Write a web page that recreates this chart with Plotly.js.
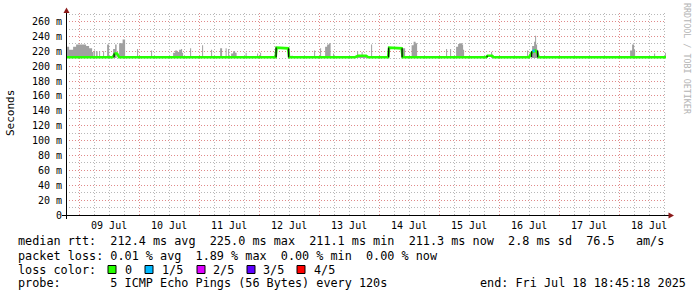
<!DOCTYPE html>
<html><head><meta charset="utf-8">
<script src="https://cdn.plot.ly/plotly-3.0.1.min.js"></script>
<style>html,body{margin:0;padding:0;background:#fff;}#chart{width:697px;height:297px;}</style>
</head><body><div id="chart"></div>
<script>
// ---------- data ----------
const startTime = '2025-07-08 18:45:18';
const endTime = '2025-07-18 18:45:18';

// median rtt (ms), breakpoints
const medianTimes = ['2025-07-08 18:45','2025-07-09 13:24','2025-07-09 14:24','2025-07-09 15:12','2025-07-09 16:00',
  '2025-07-12 06:36','2025-07-12 07:00','2025-07-12 11:36','2025-07-12 12:00',
  '2025-07-13 14:24','2025-07-13 15:36','2025-07-13 18:48','2025-07-13 19:36',
  '2025-07-14 03:36','2025-07-14 04:00','2025-07-14 09:00','2025-07-14 09:24',
  '2025-07-15 18:48','2025-07-15 19:24','2025-07-15 21:12','2025-07-15 21:48',
  '2025-07-16 12:00','2025-07-16 13:12','2025-07-16 14:24','2025-07-16 15:12','2025-07-16 15:48',
  '2025-07-18 18:45'];
const medianValues = [212,212,217,217,212, 212,225,224,212, 212,214,214,212, 212,225,224,212,
  212,214,214,212, 212,219,221,219,212, 212];

// median segment with 1/5 packet loss
const lossTimes = ['2025-07-16 13:24','2025-07-16 14:12'];
const lossValues = [220,221];

// dark smoke at transitions (ms low / high)
const transTimes = ['2025-07-09 14:00','2025-07-12 06:48','2025-07-12 11:48','2025-07-14 03:48','2025-07-14 09:12','2025-07-15 19:12','2025-07-16 13:00','2025-07-16 15:24'];
const transLow = [212,212,212,212,212,212,212,212];
const transHigh = [217,225,224,225,224,214,220,221];

// smoke (highest ping, ms), step breakpoints
const smokeBase = 211;
const smokeTimes = ['2025-07-08 18:45','2025-07-08 20:00','2025-07-08 21:36','2025-07-08 22:48','2025-07-09 02:48','2025-07-09 04:00','2025-07-09 05:12','2025-07-09 05:48',
 '2025-07-09 06:00','2025-07-09 06:24','2025-07-09 06:48','2025-07-09 07:24','2025-07-09 08:00','2025-07-09 08:24','2025-07-09 09:36','2025-07-09 10:00',
 '2025-07-09 11:12','2025-07-09 12:00','2025-07-09 13:36','2025-07-09 14:24','2025-07-09 15:00','2025-07-09 16:00','2025-07-09 17:24','2025-07-09 18:24',
 '2025-07-09 23:12','2025-07-09 23:36','2025-07-10 04:48','2025-07-10 05:12','2025-07-10 13:36','2025-07-10 14:24','2025-07-10 15:12','2025-07-10 16:00',
 '2025-07-10 16:48','2025-07-10 17:12','2025-07-10 17:36','2025-07-10 20:24','2025-07-10 20:48','2025-07-11 01:12','2025-07-11 01:36','2025-07-11 04:48',
 '2025-07-11 05:12','2025-07-11 08:24','2025-07-11 09:12','2025-07-11 10:36','2025-07-11 11:00','2025-07-11 11:36','2025-07-11 12:00','2025-07-11 12:48',
 '2025-07-11 13:36','2025-07-11 14:24','2025-07-11 15:00','2025-07-11 18:36','2025-07-11 19:00','2025-07-11 23:12','2025-07-11 23:36','2025-07-12 00:24',
 '2025-07-12 00:48','2025-07-12 12:48','2025-07-12 13:36','2025-07-12 22:00','2025-07-12 22:24','2025-07-13 00:24','2025-07-13 00:48','2025-07-13 02:24',
 '2025-07-13 03:12','2025-07-13 04:00','2025-07-13 04:36','2025-07-13 05:36','2025-07-13 06:00','2025-07-13 15:12','2025-07-13 15:36','2025-07-13 17:00',
 '2025-07-13 17:24','2025-07-13 19:00','2025-07-13 20:48','2025-07-13 21:12','2025-07-14 09:24','2025-07-14 10:24','2025-07-14 13:00','2025-07-14 13:48',
 '2025-07-14 14:36','2025-07-14 15:12','2025-07-15 02:48','2025-07-15 03:12','2025-07-15 04:24','2025-07-15 04:48','2025-07-15 06:48','2025-07-15 07:36',
 '2025-07-15 08:24','2025-07-15 09:12','2025-07-15 09:36','2025-07-15 10:00','2025-07-15 20:48','2025-07-15 21:12','2025-07-16 11:12','2025-07-16 11:36',
 '2025-07-16 13:12','2025-07-16 14:00','2025-07-16 14:24','2025-07-16 14:48','2025-07-16 15:12','2025-07-16 15:36','2025-07-18 04:24','2025-07-18 05:12',
 '2025-07-18 06:00','2025-07-18 06:24','2025-07-18 14:00','2025-07-18 14:24','2025-07-18 18:24','2025-07-18 18:45'];
const smokeTops = [226,222,226,229,227,224,219,211,
 221,211,220,211,220,211,220,211,
 229,211,223,229,211,231,236,211,
 223,211,221,211,218,221,219,222,
 223,218,211,224,211,228,211,222,
 211,224,211,224,211,223,211,217,
 220,218,211,218,211,217,211,218,
 211,214,211,221,211,224,211,226,
 229,231,211,217,211,220,215,219,
 215,211,229,211,224,211,228,233,
 231,211,223,211,223,211,226,230,
 231,229,222,211,219,211,221,211,
 227,233,241,229,222,211,221,229,
 222,211,217,211,218,218];

// axis labels
const yTickVals = [0,20,40,60,80,100,120,140,160,180,200,220,240,260];
const yTickText = yTickVals.map(v => v === 0 ? '0' : v + ' m');

// legend texts
const rttStats = ['212.4','225.0','211.1','211.3','2.8','76.5'];
const lossStats = ['0.01','1.89','0.00','0.00'];
const lossLabels = ['0','1/5','2/5','3/5','4/5'];
const lossColors = ['#26ff00','#00b8ff','#dd00ff','#5e00ff','#ff0000'];

// ---------- drawing ----------
const L = 66, R = 666, T = 13, B = 215;
const px = x => (x - L) / (R - L);
const py = y => (B - y) / (B - T);
const mono = 'DejaVu Sans Mono';
const nb = s => s.replace(/ /g, '\u00a0');
function txt(s, x, y, size, extra) {
  return Object.assign({text: nb(s), xref: 'paper', yref: 'paper', x: px(x), y: py(y),
    xanchor: 'left', yanchor: 'middle', showarrow: false,
    font: {family: mono, size: size, color: '#000'}}, extra || {});
}

const transX = [], transY = [];
transTimes.forEach((t, i) => { transX.push(t, t, null); transY.push(transLow[i], transHigh[i], null); });

const traces = [
  {x: [startTime, endTime], y: [smokeBase, smokeBase], mode: 'lines', line: {width: 0, color: 'rgba(0,0,0,0)'}, hoverinfo: 'skip'},
  {x: smokeTimes, y: smokeTops, mode: 'lines', line: {width: 0, shape: 'hv', color: '#a0a0a0'}, fill: 'tonexty', fillcolor: '#a0a0a0', hoverinfo: 'skip'},
  {x: medianTimes, y: medianValues, mode: 'lines', line: {width: 2.6, color: lossColors[0]}, hoverinfo: 'skip'},
  {x: lossTimes, y: lossValues, mode: 'lines', line: {width: 2.6, color: lossColors[1]}, hoverinfo: 'skip'},
  {x: transX, y: transY, mode: 'lines', line: {width: 1.3, color: '#111'}, hoverinfo: 'skip'}
];

const LF = 11.8;
const annotations = [
  txt('median rtt:  ' + rttStats[0] + ' ms avg  ' + rttStats[1] + ' ms max  ' + rttStats[2] + ' ms min  ' + rttStats[3] + ' ms now  ' + rttStats[4] + ' ms sd  ' + rttStats[5] + '   am/s', 16, 241.5, LF),
  txt('packet loss: ' + lossStats[0] + ' % avg  ' + lossStats[1] + ' % max  ' + lossStats[2] + ' % min  ' + lossStats[3] + ' % now', 16, 255.5, LF),
  txt('loss color:', 16, 269.5, LF),
  txt('probe:       5 ICMP Echo Pings (56 Bytes) every 120s', 16, 283, LF),
  txt('end: Fri Jul 18 18:45:18 2025', 478, 283, LF),
  txt('Seconds', 10, 113, 11, {xanchor: 'center', textangle: -90}),
  txt('RRDTOOL / TOBI OETIKER', 687, 59, 8.4, {xanchor: 'center', textangle: 90, font: {family: mono, size: 8.4, color: '#b4b4b4'}})
];
const boxX = [108, 145, 197, 247, 297];
const labX = [123, 160, 211, 261, 312];
const shapes = [];
lossLabels.forEach((lab, i) => {
  annotations.push(txt(lab, labX[i], 269.5, LF));
  shapes.push({type: 'rect', xref: 'paper', yref: 'paper', x0: px(boxX[i]), x1: px(boxX[i] + 8), y0: py(273.5), y1: py(265.5),
    fillcolor: lossColors[i], line: {color: '#000', width: 1}});
});
// axis lines with arrows
shapes.push({type: 'line', xref: 'paper', yref: 'paper', x0: px(62), x1: px(669), y0: py(215.5), y1: py(215.5), line: {color: '#000', width: 1}});
shapes.push({type: 'line', xref: 'paper', yref: 'paper', x0: px(66.5), x1: px(66.5), y0: py(219), y1: py(12), line: {color: '#000', width: 1}});
shapes.push({type: 'path', xref: 'paper', yref: 'paper',
  path: 'M ' + px(63.5) + ' ' + py(13) + ' L ' + px(69.5) + ' ' + py(13) + ' L ' + px(66.5) + ' ' + py(7.5) + ' Z',
  fillcolor: '#8b1a1a', line: {width: 0}});
shapes.push({type: 'path', xref: 'paper', yref: 'paper',
  path: 'M ' + px(668.5) + ' ' + py(212.5) + ' L ' + px(668.5) + ' ' + py(218.5) + ' L ' + px(674) + ' ' + py(215.5) + ' Z',
  fillcolor: '#8b1a1a', line: {width: 0}});

const gridMajor = '#e08a8a', gridMinor = '#b8b8b8', dash = '1px,2px';
const layout = {
  width: 697, height: 297,
  margin: {l: L, r: 697 - R, t: T, b: 297 - B, pad: 0},
  paper_bgcolor: '#fff', plot_bgcolor: '#fff', showlegend: false,
  font: {family: mono, size: 10, color: '#000'},
  xaxis: {type: 'date', range: [startTime, endTime], tick0: '2025-07-09', dtick: 86400000,
    ticklabelmode: 'period', tickformat: '%d %b', ticks: '', showline: false, zeroline: false,
    ticklabelstandoff: 3,
    showgrid: true, gridcolor: gridMajor, griddash: dash, gridwidth: 1,
    minor: {tick0: '2025-07-09', dtick: 21600000, showgrid: true, gridcolor: gridMinor, griddash: dash, ticks: ''},
    tickfont: {family: mono, size: 10, color: '#000'}, fixedrange: true},
  yaxis: {range: [0, 271.5], tickmode: 'array', tickvals: yTickVals, ticktext: yTickText,
    ticks: '', showline: false, zeroline: false, ticklabelstandoff: 3,
    showgrid: true, gridcolor: gridMajor, griddash: dash, gridwidth: 1,
    minor: {tickmode: 'linear', tick0: 0, dtick: 10, showgrid: true, gridcolor: gridMinor, griddash: dash, ticks: ''},
    tickfont: {family: mono, size: 10, color: '#000'}, fixedrange: true},
  annotations: annotations, shapes: shapes
};
Plotly.newPlot('chart', traces, layout, {displayModeBar: false, staticPlot: true});
</script></body></html>
